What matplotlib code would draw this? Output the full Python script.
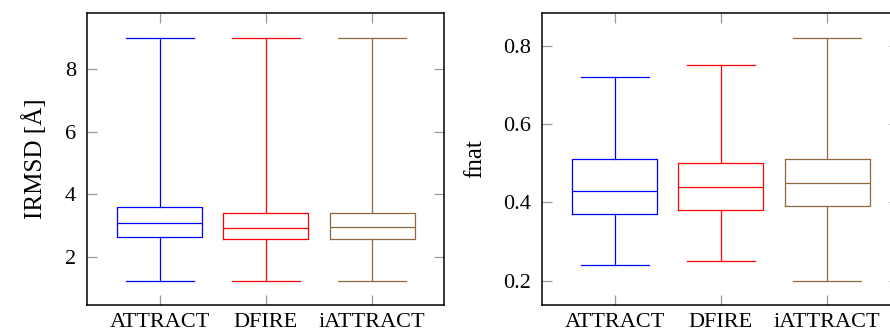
import matplotlib
matplotlib.use("Agg")
import matplotlib.pyplot as plt

methods = ["ATTRACT", "DFIRE", "iATTRACT"]
colors = ["#0000FF", "#FF0000", "#8F6840"]

# box stats: low whisker, q1, median, q3, high whisker
irmsd_low = [1.25, 1.25, 1.25]
irmsd_q1 = [2.64, 2.58, 2.59]
irmsd_med = [3.10, 2.93, 2.97]
irmsd_q3 = [3.61, 3.40, 3.42]
irmsd_high = [9.0, 9.0, 9.0]

fnat_low = [0.24, 0.25, 0.20]
fnat_q1 = [0.37, 0.38, 0.39]
fnat_med = [0.43, 0.44, 0.45]
fnat_q3 = [0.51, 0.50, 0.51]
fnat_high = [0.72, 0.75, 0.82]

plt.rcParams['font.family'] = ['Liberation Serif', 'DejaVu Serif']


def make_stats(low, q1, med, q3, high):
    out = []
    for i in range(len(methods)):
        out.append(dict(whislo=low[i], q1=q1[i], med=med[i], q3=q3[i],
                        whishi=high[i], fliers=[], label=methods[i]))
    return out


def draw(ax, stats):
    for i, st in enumerate(stats):
        c = colors[i]
        lp = dict(color=c, linewidth=0.9)
        ax.bxp([st], positions=[i + 1], widths=0.8, showfliers=False,
               boxprops=lp, whiskerprops=lp, capprops=lp, medianprops=lp,
               capwidths=0.64)
    ax.set_xlim(0.32, 3.68)
    ax.set_xticks([1, 2, 3])
    ax.set_xticklabels(methods)
    ax.tick_params(axis='both', which='both', direction='in', length=7,
                   width=0.9, color='#999999', labelsize=16,
                   top=True, right=True, pad=8)
    ax.tick_params(axis='x', pad=6)
    for s in ax.spines.values():
        s.set_linewidth(1.1)


fig = plt.figure(figsize=(8.9, 3.33), dpi=100)
ax1 = fig.add_axes([87.3 / 890, 28 / 333, 357 / 890, 292 / 333])
ax2 = fig.add_axes([542.3 / 890, 28 / 333, 357 / 890, 292 / 333])

draw(ax1, make_stats(irmsd_low, irmsd_q1, irmsd_med, irmsd_q3, irmsd_high))
ax1.set_ylim(0.47, 9.79)
ax1.set_yticks([2, 4, 6, 8])
ax1.set_ylabel("IRMSD [Å]", fontsize=18, labelpad=13)

draw(ax2, make_stats(fnat_low, fnat_q1, fnat_med, fnat_q3, fnat_high))
ax2.set_ylim(0.138, 0.883)
ax2.set_yticks([0.2, 0.4, 0.6, 0.8])
ax2.set_yticklabels(["0.2", "0.4", "0.6", "0.8"])
ax2.set_ylabel("fnat", fontsize=18, labelpad=12)

fig.savefig("out.png", dpi=100)
